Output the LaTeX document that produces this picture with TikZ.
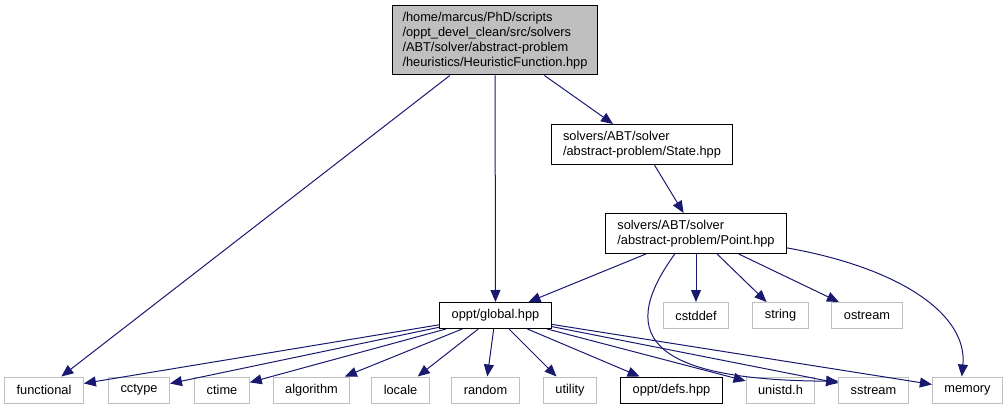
\documentclass[tikz,border=0pt]{standalone}
\usepackage{fontspec}
\setmainfont{Liberation Sans}
\usepackage{xcolor}
\usepackage{tikz}
\usetikzlibrary{arrows.meta}

\definecolor{edgeblue}{RGB}{25,25,112}
\definecolor{boxgray}{RGB}{191,191,191}

\begin{document}
\begin{tikzpicture}[x=1pt, y=-1pt,
  font=\fontsize{12.8}{15}\selectfont,
  hdr/.style={draw=black, line width=1pt, inner xsep=12pt, inner ysep=0pt,
    minimum height=26pt, align=left},
  sys/.style={hdr, draw=boxgray},
  dep/.style={draw=edgeblue, line width=1pt,
    -{Triangle[length=12pt, width=10pt]}}]
  \useasboundingbox (0,0) rectangle (1007,409);
  %% the file itself and its project includes
  \node[hdr, fill=boxgray, inner xsep=10pt, minimum height=69pt] (heur) at (495,40.5)
    {/home/marcus/PhD/scripts\\/oppt\_devel\_clean/src/solvers\\/ABT/solver/abstract-problem\\/heuristics/HeuristicFunction.hpp};
  \node[hdr, minimum height=40pt] (state) at (642,144.5)
    {solvers/ABT/solver\\/abstract-problem/State.hpp};
  \node[hdr, minimum height=40pt] (point) at (696,233.5)
    {solvers/ABT/solver\\/abstract-problem/Point.hpp};
  \node[hdr] (global) at (495.5,315.5) {oppt/global.hpp};
  %% system headers, middle row
  \node[sys] (cstddef) at (696,315.5) {cstddef};
  \node[sys] (string) at (780.5,315.5) {string};
  \node[sys] (ostream) at (867,315.5) {ostream};
  %% bottom row
  \node[sys] (functional) at (44,390) {functional};
  \node[sys] (cctype) at (139,390) {cctype};
  \node[sys] (ctime) at (222,390) {ctime};
  \node[sys] (algorithm) at (311.5,390) {algorithm};
  \node[sys] (locale) at (400.5,390) {locale};
  \node[sys] (random) at (485.5,390) {random};
  \node[sys] (utility) at (570,390) {utility};
  \node[hdr] (defs) at (671.5,390) {oppt/defs.hpp};
  \node[sys] (unistd) at (780.5,390) {unistd.h};
  \node[sys] (sstream) at (873.5,390) {sstream};
  \node[sys] (memory) at (967.5,390) {memory};
  %% include edges
  \draw[dep] (heur) -- (functional);
  \draw[dep] (heur) -- (global);
  \draw[dep] (heur) -- (state);
  \draw[dep] (state) -- (point);
  \draw[dep] (point) -- (global);
  \draw[dep] (point) -- (cstddef);
  \draw[dep] (point) -- (string);
  \draw[dep] (point) -- (ostream);
  \draw[dep] (point.224) .. controls +(-55,76) and +(-199,-1) .. (sstream.166);
  \draw[dep] (point.-9) .. controls +(113,20) and +(6,-62) .. (memory.113);
  \foreach \dst in {functional, cctype, ctime, algorithm, locale, random,
                    utility, defs, unistd, sstream, memory}
    \draw[dep] (global) -- (\dst);
\end{tikzpicture}
\end{document}
